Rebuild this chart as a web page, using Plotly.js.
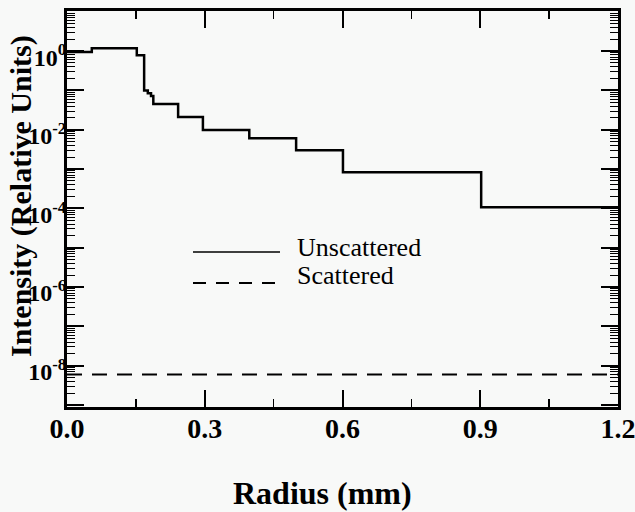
<!DOCTYPE html>
<html>
<head>
<meta charset="utf-8">
<script src="https://cdn.plot.ly/plotly-3.0.1.min.js"></script>
<style>
html,body{margin:0;padding:0;background:#f8f9f8;}
#chart{width:635px;height:512px;}
</style>
</head>
<body>
<div id="chart"></div>
<script>
// Data
var radius = [0, 0.054, 0.152, 0.168, 0.176, 0.183, 0.188, 0.242, 0.296, 0.397, 0.499, 0.601, 0.902, 1.2];
var unscattered = [0.95, 1.19, 0.79, 0.10, 0.085, 0.072, 0.045, 0.021, 0.0098, 0.0061, 0.0030, 8.3e-4, 1.07e-4, 1.07e-4];
var scatRadius = [0, 1.2];
var scattered = [6e-9, 6e-9];

var xTickVals = [0, 0.3, 0.6, 0.9, 1.2];
var xTickText = ["0.0", "0.3", "0.6", "0.9", "1.2"];
var yTickVals = [1, 1e-1, 1e-2, 1e-3, 1e-4, 1e-5, 1e-6, 1e-7, 1e-8, 1e-9];
var yTickText = ["10<sup>0</sup>", "", "10<sup>-2</sup>", "", "10<sup>-4</sup>", "", "10<sup>-6</sup>", "", "10<sup>-8</sup>", ""];

var serif = "Liberation Serif";

var traces = [
  {x: radius, y: unscattered, type: "scatter", mode: "lines", name: "Unscattered",
   line: {shape: "hv", color: "#000", width: 2.5}, showlegend: false},
  {x: scatRadius, y: scattered, type: "scatter", mode: "lines", name: "Scattered",
   line: {color: "#000", width: 2, dash: "15px,10px"}, showlegend: false}
];

var layout = {
  width: 635, height: 512,
  margin: {l: 67, r: 17, t: 11, b: 105},
  paper_bgcolor: "#f8f9f8", plot_bgcolor: "#f8f9f8",
  showlegend: false,
  font: {family: serif, color: "#000"},
  xaxis: {
    range: [0, 1.2], tickmode: "array", tickvals: xTickVals, ticktext: xTickText,
    ticks: "inside", ticklen: 17, tickwidth: 2, tickcolor: "#000",
    showline: true, linewidth: 3, linecolor: "#000", mirror: "ticks",
    showgrid: false, zeroline: false, ticklabeloverflow: "allow",
    ticklabelstandoff: -6,
    tickfont: {family: serif, size: 28, color: "#000", weight: "bold"},
    minor: {dtick: 0.15, ticks: "inside", ticklen: 8, tickwidth: 1.5, tickcolor: "#000", showgrid: false}
  },
  yaxis: {
    type: "log", range: [-9.05, 1.02], tickmode: "array", tickvals: yTickVals, ticktext: yTickText,
    ticks: "inside", ticklen: 17, tickwidth: 2, tickcolor: "#000",
    showline: true, linewidth: 3, linecolor: "#000", mirror: "ticks",
    showgrid: false, zeroline: false, ticklabeloverflow: "allow",
    ticklabelshift: 6, ticklabelstandoff: -7,
    tickfont: {family: serif, size: 24, color: "#000", weight: "bold"},
    minor: {dtick: "D1", ticks: "inside", ticklen: 8, tickwidth: 1, tickcolor: "#000", showgrid: false}
  },
  annotations: [
    {text: "Radius (mm)", xref: "paper", yref: "paper", x: (322 - 67) / 551, y: -(493 - 407) / 396,
     xanchor: "center", yanchor: "middle", showarrow: false,
     font: {family: serif, size: 32, color: "#000", weight: "bold"}},
    {text: "Intensity (Relative Units)", xref: "paper", yref: "paper", x: -(67 - 21) / 551, y: (407 - 196) / 396,
     xanchor: "center", yanchor: "middle", textangle: -90, showarrow: false,
     font: {family: serif, size: 30, color: "#000", weight: "bold"}},
    {text: "Unscattered", xref: "paper", yref: "paper", x: (295 - 67) / 551, y: (407 - 247) / 396,
     xanchor: "left", yanchor: "middle", showarrow: false,
     font: {family: serif, size: 26, color: "#000"}},
    {text: "Scattered", xref: "paper", yref: "paper", x: (295 - 67) / 551, y: (407 - 275) / 396,
     xanchor: "left", yanchor: "middle", showarrow: false,
     font: {family: serif, size: 26, color: "#000"}}
  ],
  shapes: [
    {type: "line", xref: "paper", yref: "paper", x0: (193 - 67) / 551, x1: (280 - 67) / 551,
     y0: (407 - 252) / 396, y1: (407 - 252) / 396, line: {color: "#000", width: 1.5}},
    {type: "line", xref: "paper", yref: "paper", x0: (193 - 67) / 551, x1: (280 - 67) / 551,
     y0: (407 - 283) / 396, y1: (407 - 283) / 396, line: {color: "#000", width: 2, dash: "13px,10px"}}
  ]
};

Plotly.newPlot("chart", traces, layout, {displayModeBar: false, staticPlot: true});
</script>
</body>
</html>
